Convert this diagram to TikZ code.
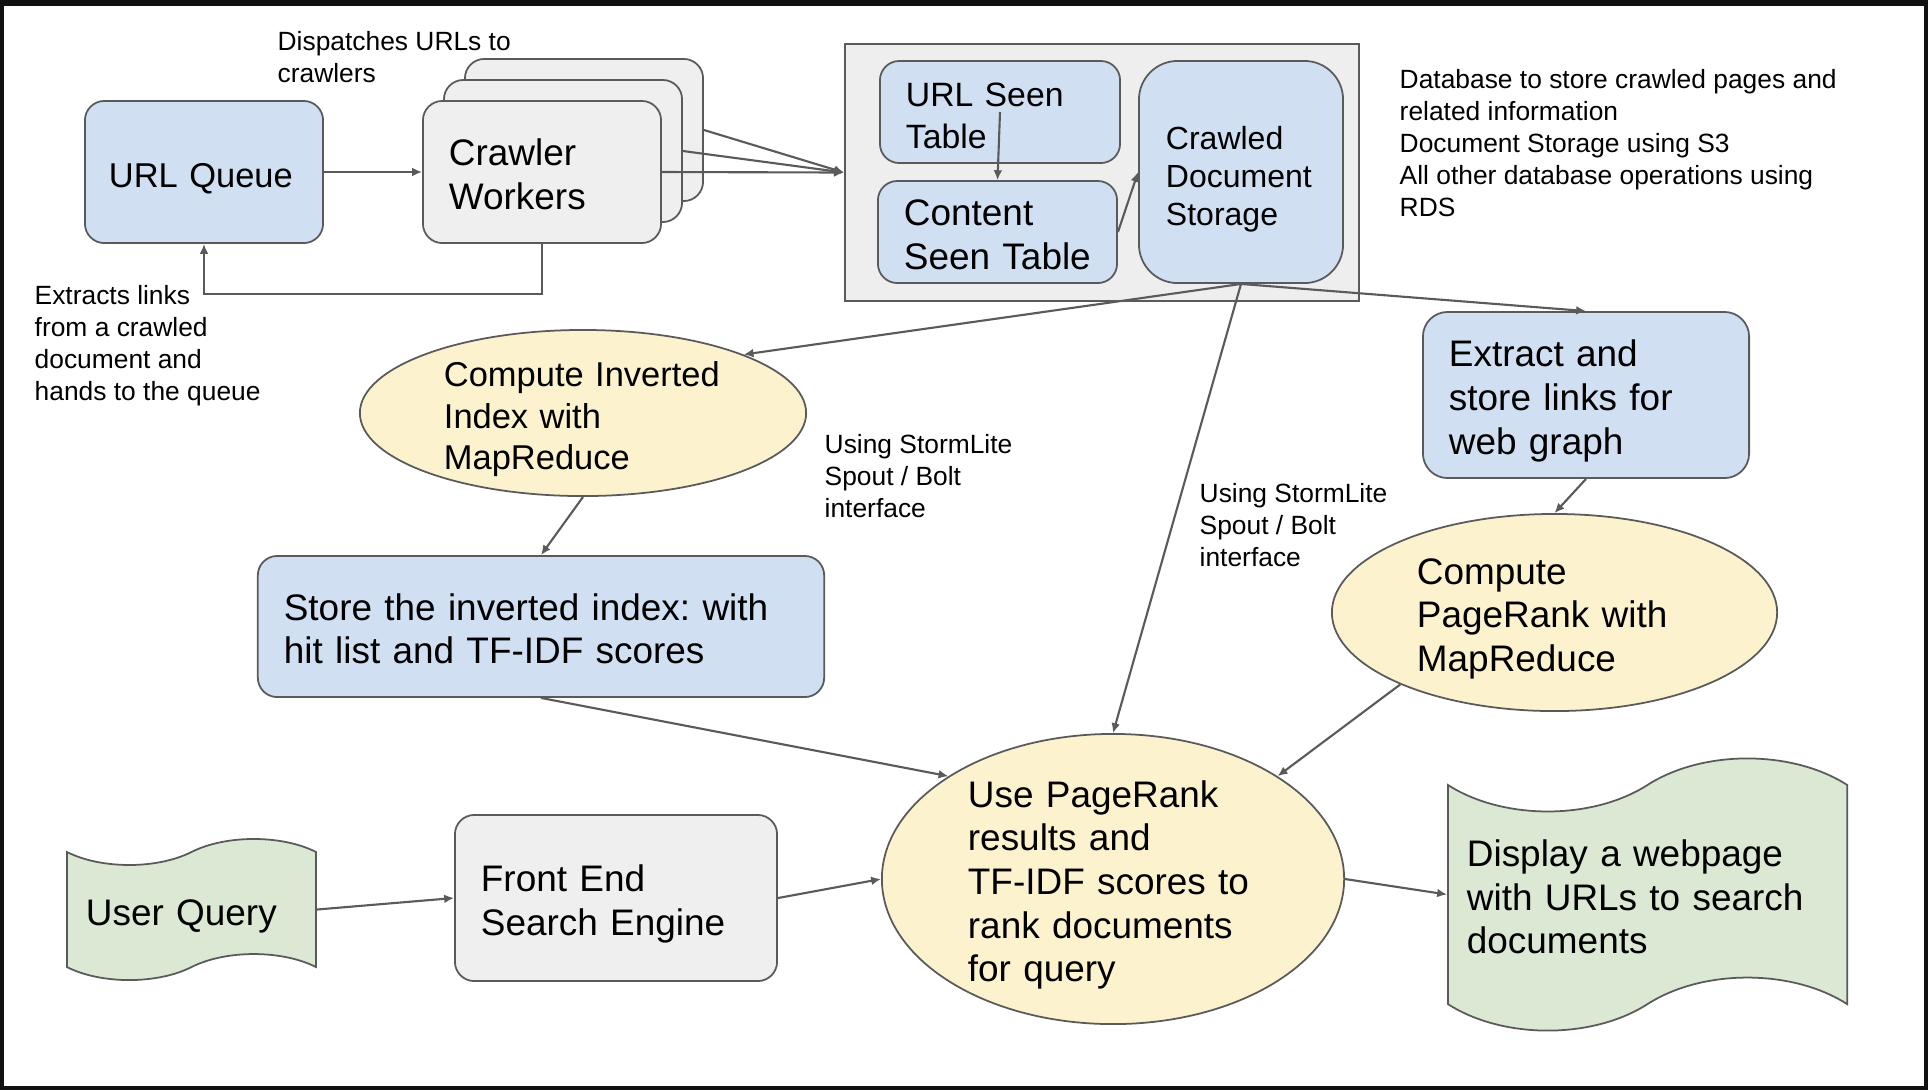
\documentclass[tikz,border=0pt]{standalone}
\usepackage{fontspec}
\setmainfont{Liberation Sans}
\usetikzlibrary{arrows.meta,shapes.geometric,shapes.symbols}
\definecolor{edge}{HTML}{5A5A5A}
\definecolor{boxblue}{HTML}{D0DFF1}
\definecolor{boxgrey}{HTML}{EFEFEF}
\definecolor{dbgrey}{HTML}{EEEEEE}
\definecolor{boxyellow}{HTML}{FDF2CE}
\definecolor{boxgreen}{HTML}{DAE8D4}
\definecolor{framedark}{HTML}{111111}
\begin{document}
\frenchspacing
\begin{tikzpicture}[x=0.01cm, y=-0.01cm, >={Latex[length=2.8pt,width=2.5pt]}]
    \tikzstyle{lines}=[align=left, font=\fontsize{10.5}{12.4}\selectfont,
      execute at begin node={\rule{0pt}{11pt}}, execute at end node={\rule[-2.2pt]{0pt}{2.2pt}}]
    \tikzstyle{box}=[lines, draw=edge, line width=0.5pt, rounded corners=5.5pt,
      inner xsep=0.26cm, inner ysep=0pt]
    \tikzstyle{oval}=[lines, ellipse, draw=edge, line width=0.5pt, fill=boxyellow,
      inner xsep=0pt, inner ysep=-0.25cm]
    \tikzstyle{flag}=[lines, tape, draw=edge, line width=0.5pt, fill=boxgreen,
      inner xsep=0.19cm, inner ysep=0pt, tape bend top=in and out, tape bend bottom=in and out]
    \tikzstyle{note}=[anchor=base west, align=left, inner sep=0pt,
      font=\fontsize{7.5}{9.1}\selectfont]
    \tikzstyle{conn}=[draw=edge, line width=0.6pt]
    \useasboundingbox (0,0) rectangle (1928,1090);
    \fill[framedark] (0,0) rectangle (1928,1090);
    \fill[white] (4,6) rectangle (1924,1086);

    % crawling part
    \node[box, fill=boxblue, inner xsep=0.24cm, text width=1.9cm, minimum height=1.42cm,
      font=\fontsize{9.8}{11.8}\selectfont] (urlqueue) at (204,172) {URL Queue};
    \node[draw=edge, line width=0.5pt, rounded corners=5.5pt, fill=boxgrey, minimum width=2.38cm, minimum height=1.42cm] (crawlback) at (584,130) {};
    \node[draw=edge, line width=0.5pt, rounded corners=5.5pt, fill=boxgrey, minimum width=2.38cm, minimum height=1.42cm] (crawlmid) at (563,151) {};
    \node[box, fill=boxgrey, text width=1.86cm, minimum height=1.42cm] (crawler) at (542,172) {Crawler\\Workers};
    \node[note] (dispatch) at (277,82) {Dispatches URLs to\\crawlers};
    \node[note] (extracts) at (34,400) {Extracts links\\from a crawled\\document and\\hands to the queue};

    % database
    \node[draw=edge, line width=0.5pt, fill=dbgrey, minimum width=5.14cm, minimum height=2.57cm] (db) at (1102,172.5) {};
    \node[box, fill=boxblue, text width=1.88cm, minimum height=1.02cm,
      font=\fontsize{9.6}{11.9}\selectfont] (urlseen) at (1000,112) {URL Seen\\Table};
    \node[box, fill=boxblue, text width=1.87cm, minimum height=1.02cm] (contentseen) at (997.5,232) {Content\\Seen Table};
    \node[box, fill=boxblue, rounded corners=11pt, inner xsep=0.27cm, text width=1.50cm, minimum height=2.22cm,
      font=\fontsize{9.1}{10.8}\selectfont] (crawled) at (1241,172) {Crawled\\Document\\Storage};
    \node[note] (dbnote) at (1399,216) {Database to store crawled pages and\\related information\\Document Storage using S3\\All other database operations using\\RDS};

    % indexing and page rank
    \node[oval, text width=2.78cm, minimum width=4.46cm, minimum height=1.66cm,
      font=\fontsize{9.8}{11.8}\selectfont] (compinv) at (583,413) {Compute Inverted\\Index with\\MapReduce};
    \node[box, fill=boxblue, text width=5.14cm, minimum height=1.41cm] (storeidx) at (541,626.5) {Store the inverted index: with\\hit list and TF-IDF scores};
    \node[box, fill=boxblue, rounded corners=7pt, text width=2.74cm, minimum height=1.66cm] (extract) at (1586,395) {Extract and\\store links for\\web graph};
    \node[oval, text width=2.75cm, minimum width=4.45cm, minimum height=1.97cm] (comppr) at (1554.5,612.5) {Compute\\PageRank with\\MapReduce};
    \node[note] (storm1) at (824,517) {Using StormLite\\Spout / Bolt\\interface};
    \node[note] (storm2) at (1199,566) {Using StormLite\\Spout / Bolt\\interface};

    % search
    \node[oval, text width=2.90cm, minimum width=4.62cm, minimum height=2.90cm] (usepr) at (1113,879) {Use PageRank\\results and\\TF-IDF scores to\\rank documents\\for query};
    \node[flag, text width=2.11cm, minimum height=1.41cm, tape bend height=0.26cm] (userq) at (191.5,909.5) {User Query};
    \node[box, fill=boxgrey, text width=2.70cm, minimum height=1.66cm] (frontend) at (616,898) {Front End\\Search Engine};
    \node[flag, text width=3.61cm, minimum height=2.72cm, tape bend height=0.53cm] (display) at (1647.5,894.5) {Display a webpage\\with URLs to search\\documents};

    \draw[->, conn] (urlqueue) -- (crawler);
    \draw[->, conn] (crawler.south) -- ++(0,50) -| (urlqueue.south);
    \draw[->, conn] (crawler.east) -- (db.west);
    \draw[->, conn] (crawlmid.east) -- (db.west);
    \draw[->, conn] (crawlback.east) -- (db.west);
    \draw[->, conn] (urlseen.center) -- (contentseen.north);
    \draw[->, conn] (contentseen.east) -- (crawled.west);
    \draw[->, conn] (crawled.south) -- (compinv.20);
    \draw[->, conn] (crawled.south) -- (usepr.north);
    \draw[->, conn] (crawled.south) -- (extract.north);
    \draw[->, conn] (compinv.south) -- (storeidx.north);
    \draw[->, conn] (storeidx.south) -- (usepr.148);
    \draw[->, conn] (extract.south) -- (comppr.north);
    \draw[->, conn] (comppr.205) -- (usepr.32);
    \draw[->, conn] (userq.east) -- (frontend.west);
    \draw[->, conn] (frontend.east) -- (usepr.west);
    \draw[->, conn] (usepr.east) -- (display.west);
\end{tikzpicture}
\end{document}
